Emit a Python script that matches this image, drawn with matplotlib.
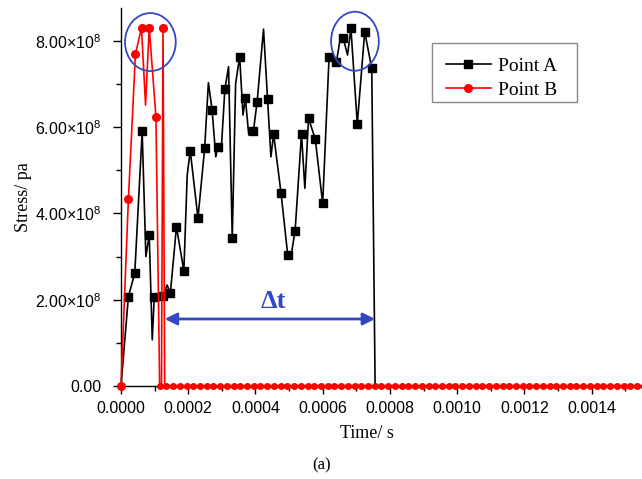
import numpy as np
import matplotlib
matplotlib.use("Agg")
import matplotlib.pyplot as plt
from matplotlib.patches import Ellipse, Rectangle
from matplotlib.ticker import MultipleLocator, FixedLocator, FixedFormatter

plt.rcParams['mathtext.fontset'] = 'custom'
plt.rcParams['mathtext.rm'] = 'Liberation Sans'
plt.rcParams['mathtext.it'] = 'Liberation Sans'

# Point A (black) - time in 1e-4 s, stress in 1e8 pa
time_a = [0, 0.22, 0.41, 0.63, 0.74, 0.84, 0.93, 0.99, 1.13, 1.25, 1.37, 1.47,
          1.65, 1.87, 1.97, 2.06, 2.29, 2.49, 2.60, 2.71, 2.82, 2.88, 2.98, 3.09,
          3.20, 3.31, 3.41, 3.53, 3.63, 3.70, 3.80, 3.94, 4.05, 4.24, 4.36, 4.46,
          4.54, 4.76, 4.96, 5.05, 5.18, 5.37, 5.47, 5.58, 5.78, 6.00, 6.19, 6.41,
          6.54, 6.61, 6.74, 6.84, 7.03, 7.25, 7.46, 7.56, 15.5]
stress_a = [0, 2.07, 2.62, 5.90, 3.00, 3.50, 1.07, 2.07, 1.98, 2.08, 2.34, 2.16,
            3.69, 2.67, 4.89, 5.45, 3.89, 5.52, 7.03, 6.40, 5.31, 5.55, 5.43, 6.88,
            7.40, 3.42, 7.01, 7.63, 6.28, 6.67, 5.82, 5.91, 6.59, 8.27, 6.65, 5.31,
            5.84, 4.48, 3.04, 2.97, 3.60, 5.84, 4.58, 6.20, 5.72, 4.23, 7.62, 7.52,
            8.13, 8.06, 7.67, 8.29, 6.07, 8.21, 7.36, 0, 0]
mark_a = [1, 2, 3, 5, 7, 9, 11, 12, 13, 15, 16, 17, 19, 21, 23, 25, 27, 29, 31,
          32, 34, 36, 37, 38, 40, 41, 43, 44, 45, 46, 47, 49, 51, 52, 53, 54]

# Point B (red)
time_b = [0, 0.22, 0.43, 0.61, 0.73, 0.84, 1.04, 1.15, 1.205, 1.25, 1.30]
stress_b = [0, 4.33, 7.69, 8.30, 6.51, 8.30, 6.23, 0, 0, 8.30, 0]
mark_b = [0, 1, 2, 3, 5, 6, 9]
# after the drop Point B stays at zero, sampled every 2e-5 s
tail_b = np.arange(1.15, 15.6, 0.2)

t_a = np.array(time_a) * 1e-4
s_a = np.array(stress_a) * 1e8
t_b = np.array(time_b) * 1e-4
s_b = np.array(stress_b) * 1e8
t_tail = tail_b * 1e-4
s_tail = np.zeros(len(tail_b))

yticks = [0, 2e8, 4e8, 6e8, 8e8]
ylabels = ['0.00', r'$2.00{\times}10^{8}$', r'$4.00{\times}10^{8}$',
           r'$6.00{\times}10^{8}$', r'$8.00{\times}10^{8}$']

fig = plt.figure(figsize=(6.42, 4.79), dpi=100)
ax = fig.add_axes([121 / 642, 1 - 386 / 479, 521 / 642, 378 / 479])

ax.plot(t_a, s_a, color='black', lw=1.2, marker='s', ms=5.5,
        markevery=mark_a, label='Point A', clip_on=False, zorder=3)
ax.plot(t_b, s_b, color='red', lw=1.2, marker='o', ms=5.5,
        markevery=mark_b, label='Point B', clip_on=False, zorder=4)
ax.plot(t_tail, s_tail, color='red', lw=2.5, marker='o', ms=4,
        clip_on=False, zorder=4)

ax.set_xlim(0, 0.00155)
ax.set_ylim(0, 8.76e8)
ax.xaxis.set_major_locator(MultipleLocator(0.0002))
ax.xaxis.set_minor_locator(MultipleLocator(0.0001))
ax.xaxis.set_major_formatter(plt.FuncFormatter(lambda v, p: f'{v:.4f}'))
ax.yaxis.set_major_locator(FixedLocator(yticks))
ax.yaxis.set_major_formatter(FixedFormatter(ylabels))
ax.yaxis.set_minor_locator(MultipleLocator(1e8))

for s in ['top', 'right']:
    ax.spines[s].set_visible(False)
for s in ['left', 'bottom']:
    ax.spines[s].set_linewidth(1.0)
ax.tick_params(which='major', direction='out', length=6, width=1,
               labelsize=11.5, labelfontfamily='Liberation Sans')
ax.tick_params(which='minor', direction='out', length=3.5, width=1)
ax.tick_params(axis='y', which='major', pad=8)
ax.tick_params(axis='x', which='major', pad=5)

fig.text(367 / 642, 1 - 434 / 479, 'Time/ s', ha='center', va='center',
         family='Liberation Serif', fontsize=13)
fig.text(24 / 642, 1 - 197 / 479, 'Stress/ pa', ha='center', va='center',
         rotation=90, family='Liberation Serif', fontsize=13)
fig.text(322 / 642, 1 - 465 / 479, '(a)', ha='center', va='center',
         family='Liberation Serif', fontsize=12)

blue = '#3346c4'
ax.add_patch(Ellipse((8.74e-5, 7.97e8), 1.51e-4, 1.344e8, fill=False,
                     ec=blue, lw=1.3, zorder=5))
ax.add_patch(Ellipse((6.96e-4, 7.99e8), 1.42e-4, 1.367e8, fill=False,
                     ec=blue, lw=1.3, zorder=5))
ax.annotate('', xy=(1.30e-4, 1.553e8), xytext=(7.56e-4, 1.553e8),
            arrowprops=dict(arrowstyle='<|-|>', color=blue, lw=2,
                            mutation_scale=18, shrinkA=0, shrinkB=0))
ax.text(4.52e-4, 1.95e8, 'Δt', color=blue, ha='center', va='center',
        family='Liberation Serif', fontsize=19, fontweight='bold')

# legend box drawn separately so it can be wider than the entries
ax.add_patch(Rectangle((0.597, 0.751), 0.278, 0.156, transform=ax.transAxes,
                       fc='white', ec='#888888', lw=1.0, zorder=6,
                       clip_on=False))
leg = ax.legend(loc='upper left', bbox_to_anchor=(0.624, 0.869),
                prop={'family': 'Liberation Serif', 'size': 14},
                frameon=False, handlelength=2.3, handletextpad=0.35,
                borderpad=0, labelspacing=0.32, borderaxespad=0)
leg.set_zorder(7)

fig.savefig('out.png', dpi=100)
